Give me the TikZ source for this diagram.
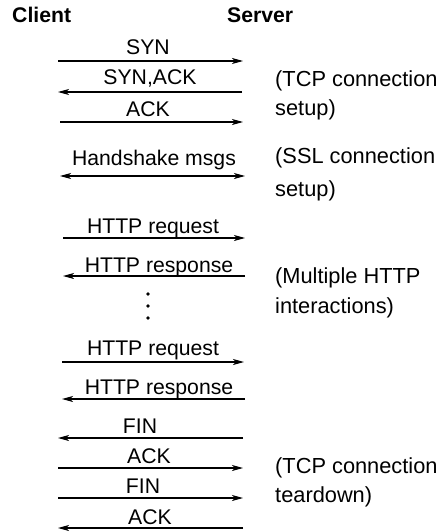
\documentclass[tikz,border=0pt]{standalone}
\usepackage{fontspec}
\setmainfont{Liberation Sans}
\usetikzlibrary{arrows.meta}
\begin{document}
\begin{tikzpicture}[x=1pt,y=-1pt,
  msg/.style={line width=1.1pt,-{Stealth[length=11pt,width=6pt,inset=3pt]}},
  msgboth/.style={line width=1.1pt,{Stealth[length=11pt,width=6pt,inset=3pt]}-{Stealth[length=11pt,width=6pt,inset=3pt]}},
  lbl/.style={font=\fontsize{21.2}{25}\selectfont,anchor=base,inner sep=0pt},
  note/.style={font=\fontsize{21.8}{25}\selectfont,anchor=base west,inner sep=0pt},
  head/.style={font=\fontsize{21.2}{25}\selectfont\bfseries,anchor=base west,inner sep=0pt},
  dot/.style={circle,fill=black,inner sep=0pt,minimum size=3.6pt}]
\useasboundingbox (0,0) rectangle (439,532);
% headers
\node[head] (client) at (12,23) {Client};
\node[head] (server) at (227,23) {Server};
% endpoints
\coordinate (a1) at (58,61);  \coordinate (b1) at (243,61);
\coordinate (a2) at (58,92);  \coordinate (b2) at (242,92);
\coordinate (a3) at (60,122); \coordinate (b3) at (243,122);
\coordinate (a4) at (60,176); \coordinate (b4) at (245,176);
\coordinate (a5) at (63,238); \coordinate (b5) at (245,238);
\coordinate (a6) at (63,276); \coordinate (b6) at (245,276);
\coordinate (a7) at (62,362); \coordinate (b7) at (244,362);
\coordinate (a8) at (62,399); \coordinate (b8) at (245,399);
\coordinate (a9) at (58,438); \coordinate (b9) at (243,438);
\coordinate (a10) at (58,468); \coordinate (b10) at (243,468);
\coordinate (a11) at (58,498); \coordinate (b11) at (243,498);
\coordinate (a12) at (58,528); \coordinate (b12) at (243,528);
% arrows
\draw[msg] (a1) -- (b1);
\draw[msg] (b2) -- (a2);
\draw[msg] (a3) -- (b3);
\draw[msgboth] (a4) -- (b4);
\draw[msg] (a5) -- (b5);
\draw[msg] (b6) -- (a6);
\draw[msg] (a7) -- (b7);
\draw[msg] (b8) -- (a8);
\draw[msg] (b9) -- (a9);
\draw[msg] (a10) -- (b10);
\draw[msg] (a11) -- (b11);
\draw[msg] (b12) -- (a12);
% labels
\node[lbl] (l1) at (148,55) {SYN};
\node[lbl] (l2) at (150,85) {SYN,ACK};
\node[lbl] (l3) at (148,117) {ACK};
\node[lbl] (l4) at (154,165) {Handshake msgs};
\node[lbl] (l5) at (153,233) {HTTP request};
\node[lbl] (l6) at (159,272) {HTTP response};
\node[lbl] (l7) at (153,355) {HTTP request};
\node[lbl] (l8) at (159,394) {HTTP response};
\node[lbl] (l9) at (140,433) {FIN};
\node[lbl] (l10) at (149,463) {ACK};
\node[lbl] (l11) at (143,493) {FIN};
\node[lbl] (l12) at (150,524) {ACK};
% dots
\node[dot] (d1) at (148,294) {};
\node[dot] (d2) at (148,306) {};
\node[dot] (d3) at (148,318) {};
% notes
\node[note] (n1) at (275,87) {(TCP connection};
\node[note] (n2) at (275,116) {setup)};
\node[note] (n3) at (275,163) {(SSL connection};
\node[note] (n4) at (275,196) {setup)};
\node[note] (n5) at (275,283) {(Multiple HTTP};
\node[note] (n6) at (275,313) {interactions)};
\node[note] (n7) at (275,473) {(TCP connection};
\node[note] (n8) at (275,502) {teardown)};
\end{tikzpicture}
\end{document}
